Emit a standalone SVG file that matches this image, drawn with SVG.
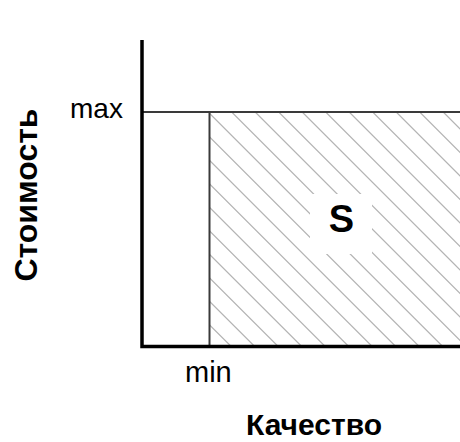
<svg xmlns="http://www.w3.org/2000/svg" width="460" height="442" viewBox="0 0 460 442">
<style>
.lbl{font-family:"Liberation Sans",Arial,sans-serif;fill:#000}
.bold{font-weight:bold}
.hatch{stroke:#b4b4b4;stroke-width:1.2;fill:none}
.guide{stroke:#3a3a3a;stroke-width:2;fill:none}
.axis{stroke:#000;stroke-width:3.5;fill:none}
</style>
<defs>
<clipPath id="areaClip"><rect x="209" y="112" width="251" height="234"/></clipPath>
</defs>
<rect width="460" height="442" fill="#fff"/>
<g id="area-S">
<g clip-path="url(#areaClip)">
<path class="hatch" d="M-3.3,112L230.7,346M20.2,112L254.2,346M43.7,112L277.7,346M67.2,112L301.2,346M90.7,112L324.7,346M114.2,112L348.2,346M137.7,112L371.7,346M161.2,112L395.2,346M184.7,112L418.7,346M208.2,112L442.2,346M231.7,112L465.7,346M255.2,112L489.2,346M278.7,112L512.7,346M302.2,112L536.2,346M325.7,112L559.7,346M349.2,112L583.2,346M372.7,112L606.7,346M396.2,112L630.2,346M419.7,112L653.7,346M443.2,112L677.2,346"/>
</g>
<rect x="310" y="194" width="62" height="60" fill="#fff"/>
<text class="lbl bold" x="341.5" y="232" font-size="38" text-anchor="middle">S</text>
</g>
<g id="connectors">
<line class="guide" x1="142" y1="112" x2="460" y2="112"/>
<line class="guide" x1="209.5" y1="112" x2="209.5" y2="346"/>
<polyline class="axis" points="142,40 142,346.5 460,346.5"/>
</g>
<g id="label-max"><text class="lbl" x="70" y="118" font-size="28">max</text></g>
<g id="label-min"><text class="lbl" x="185" y="382" font-size="29">min</text></g>
<g id="label-y"><text class="lbl bold" transform="translate(37,195) rotate(-90)" font-size="32" text-anchor="middle">Стоимость</text></g>
<g id="label-x"><text class="lbl bold" x="314" y="435" font-size="30" text-anchor="middle">Качество</text></g>
</svg>
